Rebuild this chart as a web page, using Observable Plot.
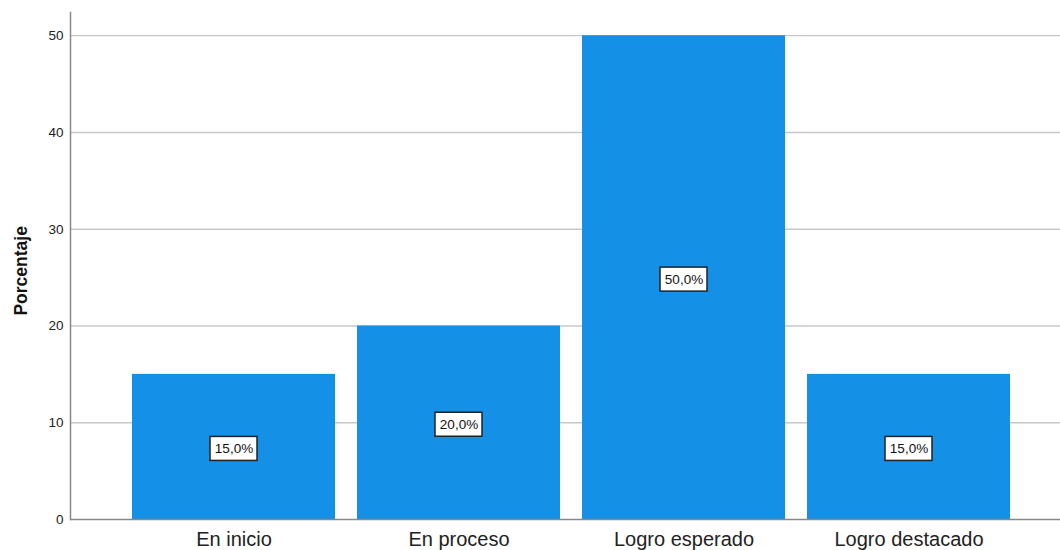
<!DOCTYPE html>
<html>
<head>
<meta charset="utf-8">
<script src="https://cdn.jsdelivr.net/npm/d3@7"></script>
<script src="https://cdn.jsdelivr.net/npm/@observablehq/plot@0.6"></script>
<style>
  html, body { margin: 0; padding: 0; background: #fff; }
  #chart { width: 1060px; height: 550px; }
  svg { font-family: "Liberation Sans", Arial, sans-serif; }
</style>
</head>
<body>
<div id="chart"></div>
<script>
const categories = ["En inicio", "En proceso", "Logro esperado", "Logro destacado"];
const percentages = [15.0, 20.0, 50.0, 15.0];
const yTicks = [0, 10, 20, 30, 40, 50];

const data = categories.map((c, i) => ({category: c, value: percentages[i]}));
const fmt = v => v.toFixed(1).replace(".", ",") + "%";

const chart = Plot.plot({
  width: 1060,
  height: 550,
  marginLeft: 70,
  marginRight: 0,
  marginTop: 12,
  marginBottom: 31,
  style: {fontFamily: "'Liberation Sans', Arial, sans-serif", background: "#fff"},
  x: {domain: categories, range: [120.5, 1021], paddingInner: 0.1, paddingOuter: 0.05, label: null},
  y: {domain: [0, 52.4], label: null},
  marks: [
    Plot.ruleY(yTicks.filter(d => d > 0), {stroke: "#c8c8c8", strokeWidth: 1.3, strokeOpacity: 1}),
    Plot.barY(data, {x: "category", y: "value", fill: "#1490e6"}),
    Plot.ruleY([0], {stroke: "#888", strokeWidth: 1.5}),
    Plot.frame({anchor: "left", stroke: "#888", strokeWidth: 1.5}),
    Plot.axisY({ticks: yTicks, tickSize: 0, tickPadding: 7, fontSize: 13.5, label: null, color: "#222"}),
    Plot.axisX({tickSize: 0, tickPadding: 12, fontSize: 20, label: null, color: "#222"}),
    Plot.text(["Porcentaje"], {frameAnchor: "left", textAnchor: "middle", y: 25.7, dx: -49, rotate: -90, fontSize: 17.5, fontWeight: "bold", fill: "#111"}),
    Plot.barY(data, {
      x: "category", y1: d => d.value / 2, y2: d => d.value / 2,
      insetLeft: 78, insetRight: 78, insetTop: -10, insetBottom: -14,
      fill: "#fff", stroke: "#222", strokeWidth: 1.5
    }),
    Plot.text(data, {x: "category", y: d => d.value / 2, dy: 2, text: d => fmt(d.value), fontSize: 13.5, fill: "#111"})
  ]
});
document.getElementById("chart").appendChild(chart);
</script>
</body>
</html>
